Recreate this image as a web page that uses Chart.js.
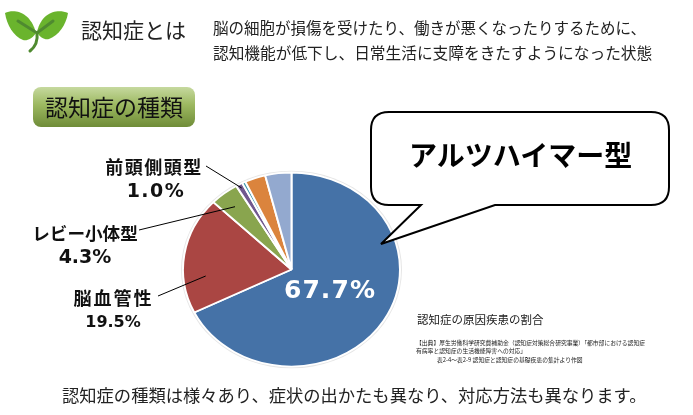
<!DOCTYPE html>
<html lang="ja">
<head>
<meta charset="utf-8">
<script src="https://cdn.jsdelivr.net/npm/chart.js@4/dist/chart.umd.min.js"></script>
<style>
  html, body { margin: 0; padding: 0; background: #fff; }
  #wrap { position: relative; width: 693px; height: 415px; overflow: hidden; font-family: "Noto Sans CJK JP", sans-serif; color: #222; }
  #wrap canvas { position: absolute; left: 0; top: 0; }
  #wrap svg { position: absolute; left: 0; top: 0; }
  .txt { position: absolute; white-space: nowrap; line-height: 1; }
  #pill { position: absolute; left: 33px; top: 87px; width: 162px; height: 40px; border-radius: 8px;
          background: linear-gradient(#c6d99f, #9cb860 45%, #6f8c38); }
</style>
</head>
<body>
<div id="wrap">
  <canvas id="myChart" width="693" height="415"></canvas>
  <div id="pill"></div>
  <svg width="693" height="415">
    <path d="M5 13 C14 9 30 11 36 33 C32 39 27 41 23 40 C13 36 7 25 5 13Z" fill="#6ab42d"/>
    <path d="M68 13 C58 9 42 11 37 32 C40 38 45 40 49 39 C59 35 66 25 68 13Z" fill="#6ab42d"/>
    <path d="M18 21 L37 33 L53 21 M37 33 C38 41 35 47 30 51" fill="none" stroke="#4f8a30" stroke-width="3" stroke-linecap="round"/>
    <path d="M389 112 H651 Q669 112 669 130 V187 Q669 205 651 205 H495 L381 244 L421 205 H389 Q371 205 371 187 V130 Q371 112 389 112Z" fill="#fff" stroke="#000" stroke-width="2"/>
  </svg>
  <div class="txt" style="left:81px;top:19px;font-size:21px;">認知症とは</div>
  <div class="txt" style="left:213px;top:20px;font-size:15.5px;">脳の細胞が損傷を受けたり、働きが悪くなったりするために、</div>
  <div class="txt" style="left:213px;top:45px;font-size:15.7px;">認知機能が低下し、日常生活に支障をきたすようになった状態</div>
  <div class="txt" style="left:45px;top:95px;font-size:23px;color:#111;">認知症の種類</div>
  <div class="txt" style="left:409px;top:140px;font-size:28px;font-weight:700;color:#000;">アルツハイマー型</div>
  <div class="txt" style="left:417px;top:314px;font-size:11.5px;">認知症の原因疾患の割合</div>
  <div class="txt" style="left:416px;top:340px;font-size:5.8px;">【出典】厚生労働科学研究費補助金（認知症対策総合研究事業）「都市部における認知症</div>
  <div class="txt" style="left:416px;top:348px;font-size:5.8px;">有病率と認知症の生活機能障害への対応」</div>
  <div class="txt" style="left:437px;top:357px;font-size:5.8px;">表2-4～表2-9 認知症と認知症の基礎疾患の集計より作図</div>
  <div class="txt" style="left:62px;top:386px;font-size:17.3px;">認知症の種類は様々あり、症状の出かたも異なり、対応方法も異なります。</div>
</div>
<script>
const categories = ['アルツハイマー型', '脳血管性', 'レビー小体型', '前頭側頭型', 'その他1', 'その他2', 'その他3'];
const sliceValues = [67.7, 19.5, 4.3, 1.0, 0.5, 3.1, 3.9];
const printedPercents = ['67.7%', '19.5%', '4.3%', '1.0%'];
const sliceColors = ['#4572a7', '#aa4643', '#89a54e', '#71588f', '#4198af', '#db843d', '#93a9cf'];

const labelFont = '"Noto Sans CJK JP", sans-serif';
const numFont = '"DejaVu Sans", sans-serif';

// the pie in the picture is squashed, this is height over width
const pieSquash = 97 / 108.5;

// text spots and leader lines around the pie
const annotations = [
  { name: null, pct: 0, pctX: 330, pctY: 291, pctSize: 25, pctSpacing: 1.1, pctColor: '#fff' },
  { name: 1, nameX: 113.5, nameY: 298, size: 18, spacing: 2, pct: 1, pctX: 113, pctY: 323, pctSize: 16, line: [158, 296, 205.7, 276] },
  { name: 2, nameX: 85, nameY: 233, size: 17.6, spacing: 0, pct: 2, pctX: 85, pctY: 258, pctSize: 19, line: [139, 230, 235, 206.7] },
  { name: 3, nameX: 154, nameY: 167, size: 18, spacing: 1.5, pct: 3, pctX: 156, pctY: 192, pctSize: 19, pctSpacing: 1.5, line: [206, 166, 241.7, 188] }
];

const pieExtras = {
  id: 'pieExtras',
  beforeDatasetsDraw(chart) {
    const arc = chart.getDatasetMeta(0).data[0];
    const c = chart.ctx;
    c.save();
    c.translate(arc.x, arc.y);
    c.scale(1, pieSquash);
    c.translate(-arc.x, -arc.y);
    // thin grey rim behind the pie
    c.beginPath();
    c.arc(arc.x, arc.y, arc.outerRadius + 2, 0, Math.PI * 2);
    c.fillStyle = '#e6e6e6';
    c.fill();
  },
  afterDatasetsDraw(chart) {
    const c = chart.ctx;
    c.restore();
    c.save();
    c.textAlign = 'center';
    c.textBaseline = 'middle';
    annotations.forEach((a) => {
      if (a.line) {
        c.beginPath();
        c.moveTo(a.line[0], a.line[1]);
        c.lineTo(a.line[2], a.line[3]);
        c.strokeStyle = '#000';
        c.lineWidth = 1;
        c.stroke();
      }
      if (a.name !== null) {
        c.font = 'bold ' + a.size + 'px ' + labelFont;
        c.letterSpacing = a.spacing + 'px';
        c.fillStyle = '#111';
        c.fillText(categories[a.name], a.nameX, a.nameY);
      }
      c.font = 'bold ' + a.pctSize + 'px ' + numFont;
      c.letterSpacing = (a.pctSpacing || 0) + 'px';
      c.fillStyle = a.pctColor || '#111';
      c.fillText(printedPercents[a.pct], a.pctX, a.pctY);
    });
    c.restore();
  }
};

const ctx = document.getElementById('myChart').getContext('2d');
const chart = new Chart(ctx, {
  type: 'pie',
  data: {
    labels: categories,
    datasets: [{
      data: sliceValues,
      backgroundColor: sliceColors,
      borderColor: '#fff',
      borderWidth: 2,
      hoverOffset: 0
    }]
  },
  options: {
    responsive: false,
    animation: false,
    layout: { padding: { left: 182, right: 292, top: 160, bottom: 36 } },
    plugins: {
      legend: { display: false },
      tooltip: { enabled: false }
    }
  },
  plugins: [pieExtras]
});
</script>
</body>
</html>
